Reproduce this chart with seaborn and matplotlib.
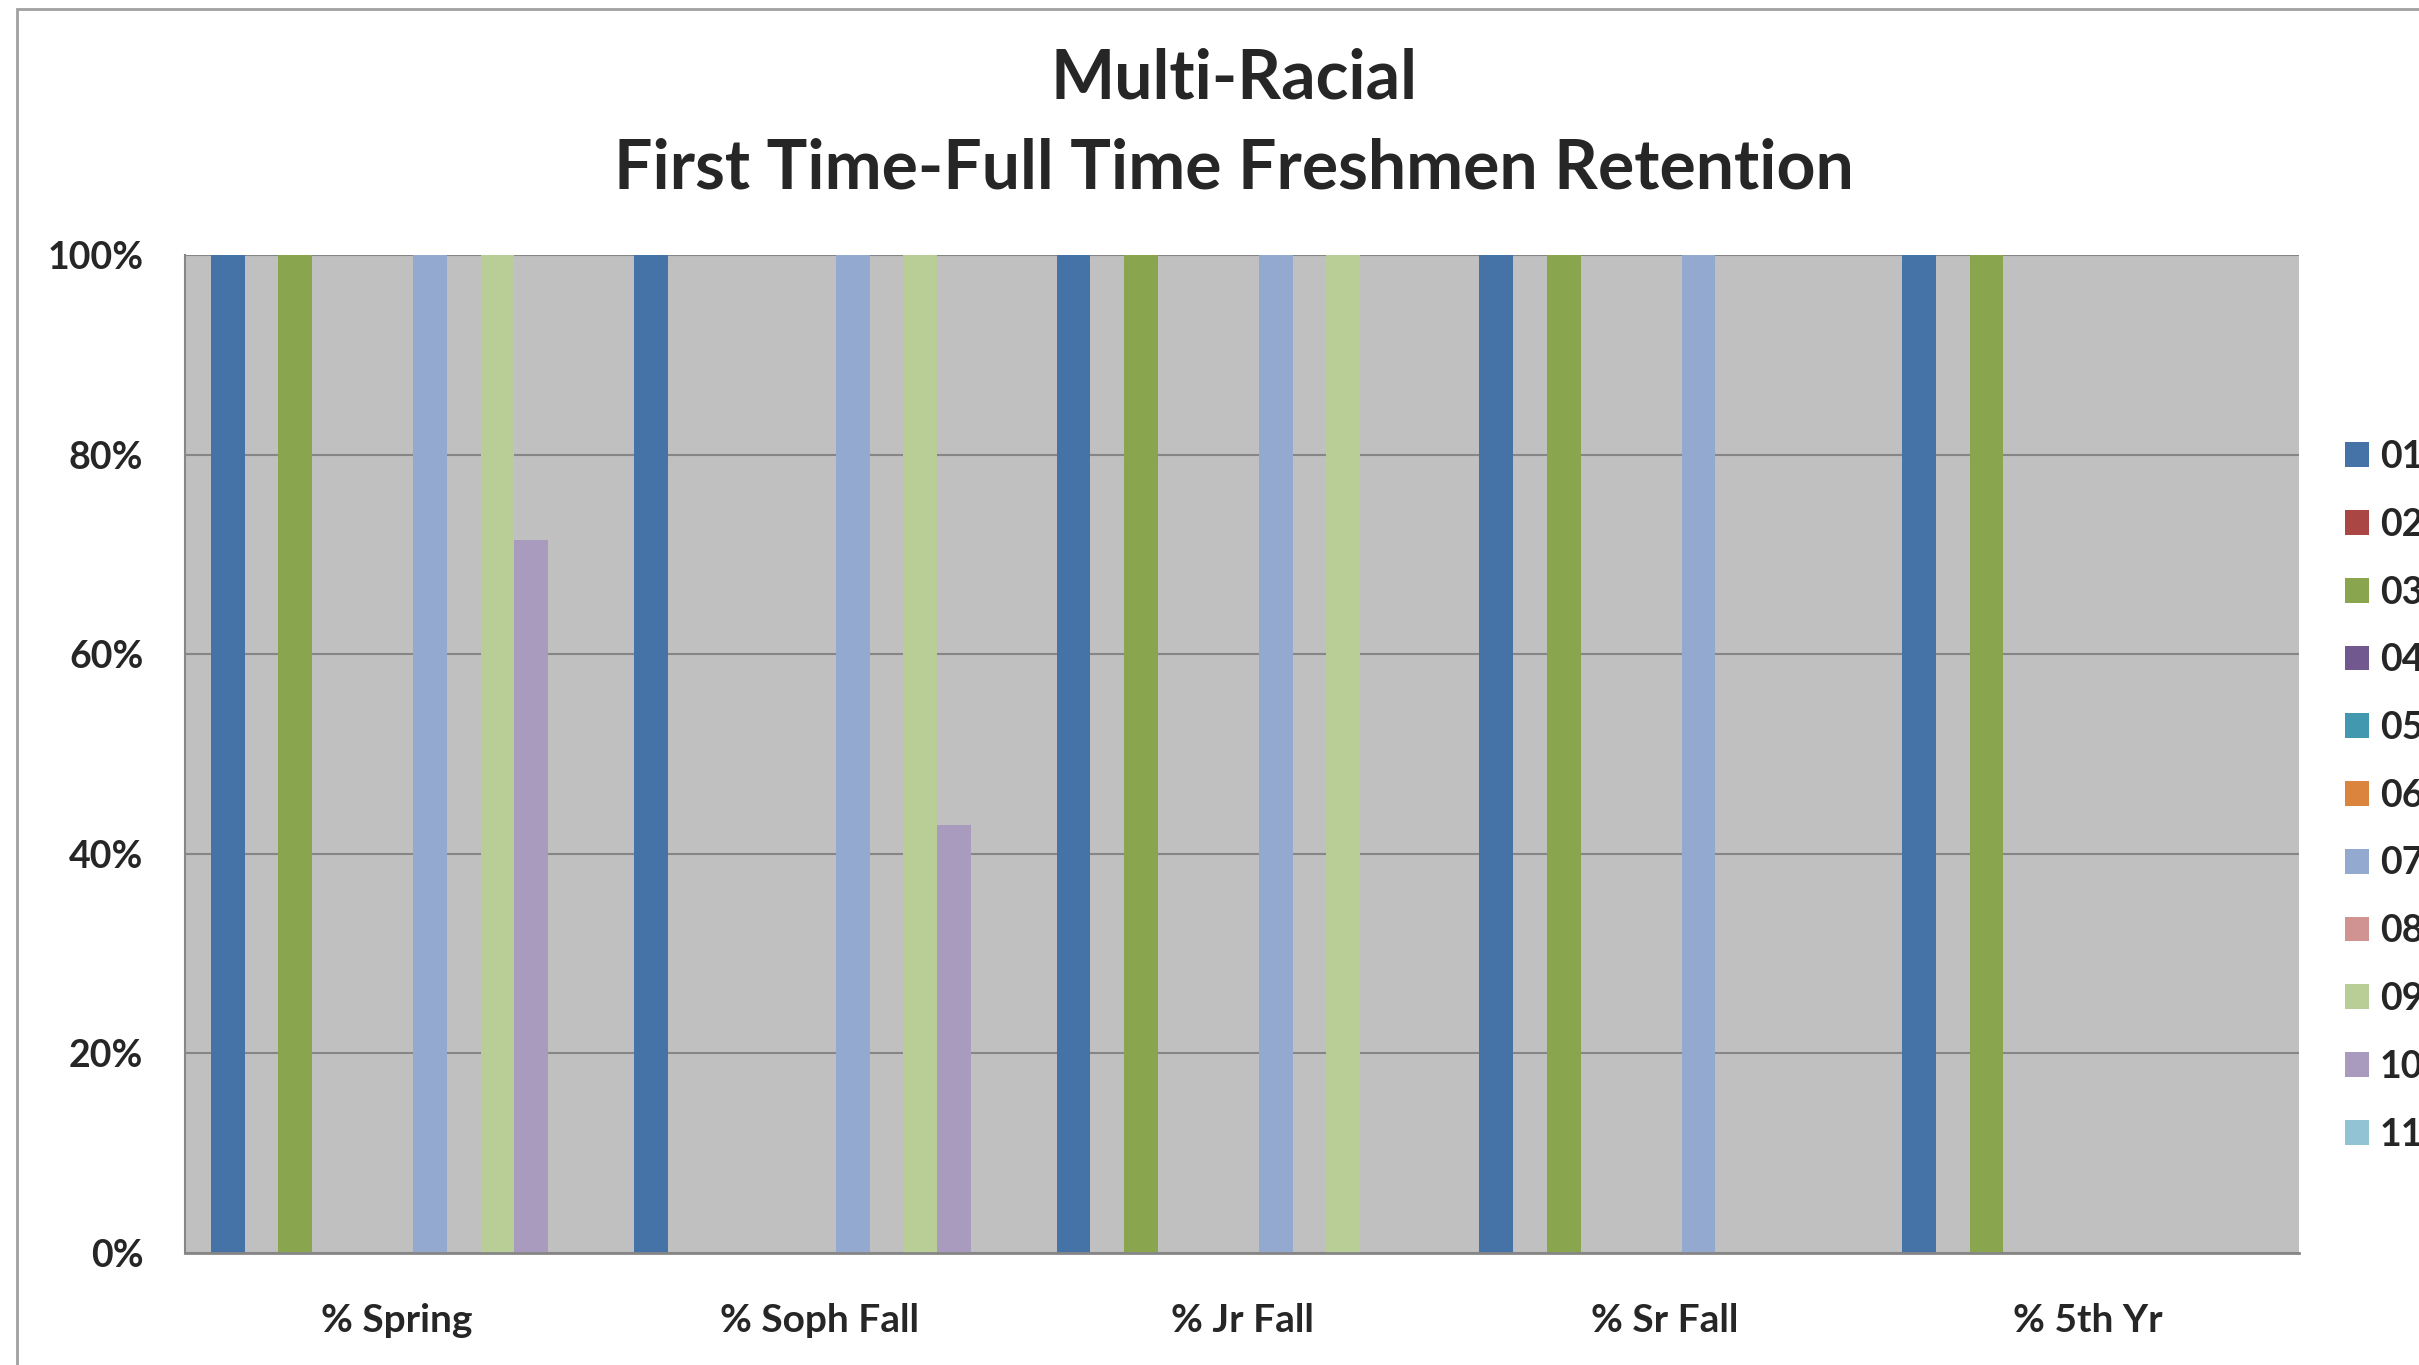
import pandas as pd
import matplotlib
matplotlib.use("Agg")
import matplotlib.pyplot as plt
import matplotlib.patches as mpatches
import seaborn as sns

# chart data
categories = ['% Spring', '% Soph Fall', '% Jr Fall', '% Sr Fall', '% 5th Yr']
series = ['01', '02', '03', '04', '05', '06', '07', '08', '09', '10', '11']
values = {
    '01': [1.0, 1.0, 1.0, 1.0, 1.0],
    '02': [0, 0, 0, 0, 0],
    '03': [1.0, 0, 1.0, 1.0, 1.0],
    '04': [0, 0, 0, 0, 0],
    '05': [0, 0, 0, 0, 0],
    '06': [0, 0, 0, 0, 0],
    '07': [1.0, 1.0, 1.0, 1.0, 0],
    '08': [0, 0, 0, 0, 0],
    '09': [1.0, 1.0, 1.0, 0, 0],
    '10': [0.714, 0.429, 0, 0, 0],
    '11': [0, 0, 0, 0, 0],
}
colors = ['#4572A7', '#AA4643', '#89A54E', '#71588F', '#4198AF', '#DB843D',
          '#93A9CF', '#D19392', '#B9CD96', '#A99BBD', '#92C3D4']
yticks = [0, 0.2, 0.4, 0.6, 0.8, 1.0]
ytick_labels = ['0%', '20%', '40%', '60%', '80%', '100%']
title_lines = ['Multi-Racial', 'First Time-Full Time Freshmen Retention']

rows = []
for s in series:
    for c, v in zip(categories, values[s]):
        rows.append({'Category': c, 'Series': s, 'Value': v})
df = pd.DataFrame(rows)

sns.set_style('white')
plt.rcParams['font.family'] = ['Lato', 'DejaVu Sans']

fig = plt.figure(figsize=(24.19, 13.65), dpi=100)
ax = fig.add_axes([185 / 2419, 1 - 1253 / 1365, (2299 - 185) / 2419, (1253 - 255) / 1365])
ax.set_facecolor('#C0C0C0')

sns.barplot(data=df, x='Category', y='Value', hue='Series', order=categories,
            hue_order=series, palette=dict(zip(series, colors)), width=0.877,
            gap=0, saturation=1, linewidth=0, errorbar=None, ax=ax)

ax.set_xlim(-0.5, len(categories) - 0.5)
ax.set_ylim(0, 1)
ax.set_yticks(yticks)
ax.set_yticklabels(ytick_labels, fontsize=27, fontweight='bold')
ax.yaxis.grid(True, color='#868686', linewidth=1.5)
ax.set_axisbelow(True)
ax.tick_params(axis='y', length=0, pad=30)
ax.tick_params(axis='x', length=0, pad=36, labelsize=28)
for lab in ax.get_xticklabels():
    lab.set_fontweight('bold')
ax.set_xticks([i - 0.5 for i in range(len(categories) + 1)], minor=True)
ax.tick_params(axis='x', which='minor', length=9.5, width=1.5, color='#868686', direction='out')
ax.set_xlabel('')
ax.set_ylabel('')
for side in ['top', 'right']:
    ax.spines[side].set_visible(False)
ax.spines['left'].set_color('#868686')
ax.spines['left'].set_linewidth(1.5)
ax.spines['bottom'].set_color('#868686')
ax.spines['bottom'].set_linewidth(2)

handles, labels = ax.get_legend_handles_labels()
ax.get_legend().remove()
fig.legend(handles, labels, loc='upper left', bbox_to_anchor=(2345 / 2419, 1 - 440 / 1365),
           frameon=False, borderpad=0, borderaxespad=0, handlelength=0.64,
           handleheight=0.64, handletextpad=0.29, labelspacing=0.90,
           prop={'weight': 'bold', 'size': 27})

fig.text(0.510, 1 - 79 / 1365, title_lines[0], ha='center', va='center',
         fontsize=49, fontweight='bold')
fig.text(0.510, 1 - 169 / 1365, title_lines[1], ha='center', va='center',
         fontsize=49, fontweight='bold')

# chart frame
fig.patches.append(mpatches.Rectangle((17 / 2419, -0.05), 1.1, 1.05 - 9 / 1365,
                                      transform=fig.transFigure, fill=False,
                                      edgecolor='#A0A0A0', linewidth=2))

fig.savefig('out.png', dpi=100)
